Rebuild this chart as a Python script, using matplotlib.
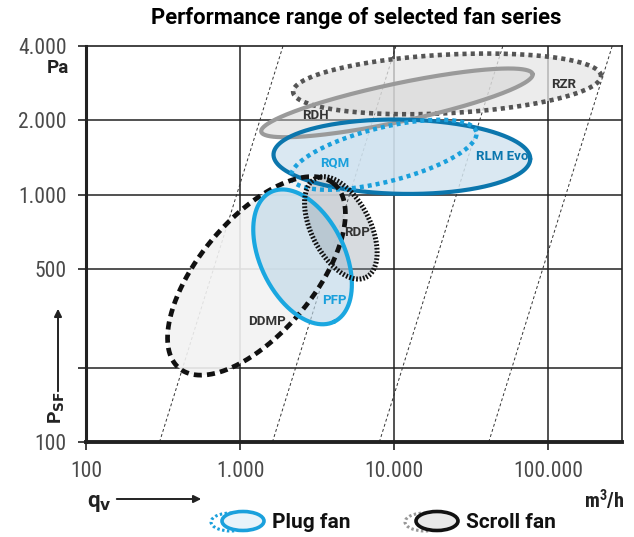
import numpy as np
import matplotlib
matplotlib.use("Agg")
import matplotlib.pyplot as plt
from matplotlib import font_manager as fm
from matplotlib.patches import Ellipse, FancyArrowPatch

def pick(names):
    for n in names:
        try:
            fm.findfont(fm.FontProperties(family=n), fallback_to_default=False)
            return n
        except Exception:
            pass
    return "DejaVu Sans"

NARROW = pick(["Liberation Sans Narrow", "Roboto Condensed", "Roboto", "Liberation Sans"])
BOLD = pick(["Roboto", "Liberation Sans"])

# ---------------- data ----------------
x_ticks = [100, 1000, 10000, 100000]
x_tick_labels = ["100", "1.000", "10.000", "100.000"]
y_ticks = [100, 200, 500, 1000, 2000, 4000]
y_tick_labels = ["100", "", "500", "1.000", "2.000", "4.000"]

# system curves p ~ q^2 : flow rate (m3/h) at 100 Pa
curve_q_at_100pa = [300, 1620, 8000, 41000]

series = ["RZR", "RDH", "RLM Evo", "RQM", "DDMP", "PFP", "RDP"]
center_q = [22000, 10400, 11200, 8550, 1276, 2540, 4500]     # m3/h
center_p = [2810, 2355, 1426, 1452, 470, 561, 735]           # Pa
half_major_dec = [1.00, 0.90, 0.833, 0.618, 0.781, 0.468, 0.36]  # decades of q
half_minor_dec = [0.19, 0.124, 0.241, 0.176, 0.371, 0.273, 0.19]
tilt_deg = [3, 12, -1, 14, 50, -64, -63]

label_q = [125000, 3090, 50100, 4110, 1483, 4110, 5710]
label_p = [2787, 2100, 1426, 1349, 306, 372, 702]

# ---------------- figure ----------------
W, H = 634, 537
fig = plt.figure(figsize=(W / 100, H / 100), dpi=100)
ax = fig.add_axes([86 / W, 1 - 442 / H, (622 - 86) / W, (442 - 46) / H])
ax.set_xscale("log")
ax.set_yscale("log")
ax.set_xlim(100, 300000)
ax.set_ylim(100, 4000)

ax.set_xticks(x_ticks)
ax.set_xticklabels(x_tick_labels)
ax.set_yticks(y_ticks)
ax.set_yticklabels(y_tick_labels)
ax.minorticks_off()
ax.tick_params(axis="both", direction="out", length=6, width=1.2, color="#222",
               labelsize=15.5, labelcolor="#4a4a4a", pad=8)
for lab in ax.get_xticklabels() + ax.get_yticklabels():
    lab.set_fontfamily(NARROW)

for v in [1000, 10000, 100000]:
    ax.axvline(v, color="#222", lw=1.1, zorder=1)
for v in [200, 500, 1000, 2000]:
    ax.axhline(v, color="#222", lw=1.1, zorder=1)
for side in ["top", "right"]:
    ax.spines[side].set_linewidth(1.2)
    ax.spines[side].set_color("#222")
ax.spines["left"].set_linewidth(2.2)
ax.spines["bottom"].set_linewidth(2.8)
ax.spines["left"].set_color("#222")
ax.spines["bottom"].set_color("#222")

# system curves
for q0 in curve_q_at_100pa:
    qq = np.array([q0, q0 * np.sqrt(40.0)])
    pp = 100 * (qq / q0) ** 2
    ax.plot(qq, pp, color="#333", lw=0.7, ls=(0, (3, 2.5)), zorder=2, clip_on=True)

fig.canvas.draw()

def ellipse_pts(qc, pc, a_dec, b_dec, ang, n=400):
    T = ax.transData
    c = T.transform((qc, pc))
    unit = T.transform((qc * 10, pc))[0] - c[0]
    a, b = a_dec * unit, b_dec * unit
    t = np.linspace(0, 2 * np.pi, n)
    th = np.deg2rad(ang)
    x = a * np.cos(t) * np.cos(th) - b * np.sin(t) * np.sin(th) + c[0]
    y = a * np.cos(t) * np.sin(th) + b * np.sin(t) * np.cos(th) + c[1]
    d = T.inverted().transform(np.column_stack([x, y]))
    return d[:, 0], d[:, 1]

styles = {
    "RZR": dict(fc="#e6e6e6", fa=0.75, ec="#555555", ls=(0, (0.9, 0.9)), lw=3.3, z=3),
    "RDH": dict(fc="#d0d0d0", fa=0.45, ec="#9a9a9a", ls="-", lw=3.0, z=4),
    "RLM Evo": dict(fc="#d4e5f0", fa=0.85, ec="#0b76ad", ls="-", lw=3.0, z=5),
    "RQM": dict(fc="#c8dded", fa=0.35, ec="#1aa0dc", ls=(0, (0.9, 0.9)), lw=3.2, z=6),
    "DDMP": dict(fc="#f2f2f2", fa=0.9, ec="#111111", ls=(0, (1.7, 1.1)), lw=3.4, z=7),
    "PFP": dict(fc="#bfd8e8", fa=0.65, ec="#1aa7e0", ls="-", lw=3.0, z=8),
    "RDP": dict(fc="#8e9aa6", fa=0.35, ec="#111111", ls=(0, (0.35, 0.35)), lw=3.6, z=9),
}
label_color = {"RZR": "#333333", "RDH": "#333333", "RLM Evo": "#0b76ad",
               "RQM": "#1aa0dc", "DDMP": "#333333", "PFP": "#1aa0dc", "RDP": "#333333"}

curves = {}
for i, name in enumerate(series):
    xs, ys = ellipse_pts(center_q[i], center_p[i], half_major_dec[i],
                         half_minor_dec[i], tilt_deg[i])
    curves[name] = (xs, ys)
    st = styles[name]
    ax.fill(xs, ys, color=st["fc"], alpha=st["fa"], lw=0, zorder=st["z"])
for name in series:
    xs, ys = curves[name]
    st = styles[name]
    ax.plot(xs, ys, color=st["ec"], lw=st["lw"], ls=st["ls"], zorder=st["z"] + 10,
            solid_capstyle="round")

for i, name in enumerate(series):
    ax.text(label_q[i], label_p[i], name, ha="center", va="center", fontsize=9.5,
            fontweight="bold", color=label_color[name], family=BOLD, zorder=30)

# title and axis labels
fig.text(356 / W, 1 - 18 / H, "Performance range of selected fan series",
         ha="center", va="center", fontsize=15.8, fontweight="bold", family=BOLD)
fig.text(69 / W, 1 - 68 / H, "Pa", ha="right", va="center", fontsize=13.5,
         fontweight="bold", family=BOLD, color="#222")
fig.text(57 / W, 1 - 408 / H, r"P$_{\mathbf{SF}}$", ha="center", va="center",
         rotation=90, fontsize=14, fontweight="bold", family=BOLD, color="#222")
fig.text(99 / W, 1 - 503 / H, r"q$_{\mathbf{v}}$", ha="center", va="center",
         fontsize=16, fontweight="bold", family=BOLD, color="#222")
fig.text(624 / W, 1 - 500 / H, "m$^{\\mathregular{3}}$/h", ha="right", va="center",
         fontsize=14.5, fontweight="bold", family=NARROW, color="#222")

fig.add_artist(FancyArrowPatch(
    (58 / W, 1 - 394 / H), (58 / W, 1 - 306 / H), transform=fig.transFigure,
    arrowstyle="-|>", mutation_scale=11, lw=1.4, color="#222"))
fig.add_artist(FancyArrowPatch(
    (114 / W, 1 - 499 / H), (204 / W, 1 - 499 / H), transform=fig.transFigure,
    arrowstyle="-|>", mutation_scale=11, lw=1.4, color="#222"))

# legend icons
lax = fig.add_axes([0, 0, 1, 1], zorder=50)
lax.set_xlim(0, W)
lax.set_ylim(H, 0)
lax.axis("off")
lax.add_patch(Ellipse((231, 522), 40, 18, fc="none", ec="#1aa0dc", lw=2.2,
                      ls=(0, (0.8, 0.8))))
lax.add_patch(Ellipse((243, 521), 42, 19, fc="#e8f3fa", ec="#1aa0dc", lw=2.6))
lax.add_patch(Ellipse((425, 522), 40, 18, fc="none", ec="#999999", lw=2.2,
                      ls=(0, (0.8, 0.8))))
lax.add_patch(Ellipse((437, 521), 42, 19, fc="#e8e8e8", ec="#111111", lw=2.6))
lax.text(272, 522, "Plug fan", ha="left", va="center", fontsize=15,
         fontweight="bold", family=BOLD, color="#111")
lax.text(466, 522, "Scroll fan", ha="left", va="center", fontsize=15,
         fontweight="bold", family=BOLD, color="#111")

fig.savefig("out.png", dpi=100)
